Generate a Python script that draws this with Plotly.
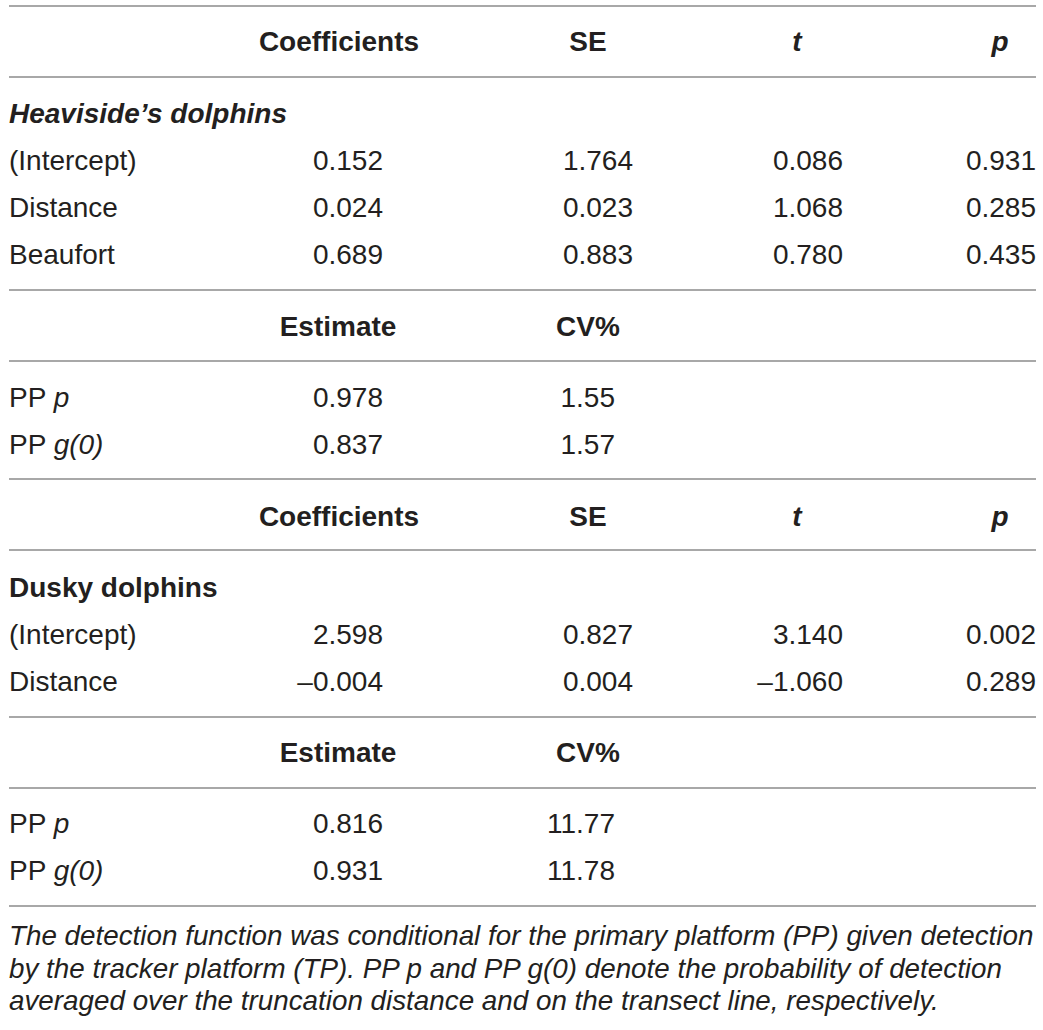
import plotly.graph_objects as go

# ── Data ───────────────────────────────────────────────────
coef_headers = ["Coefficients", "SE", "<i>t</i>", "<i>p</i>"]
est_headers = ["Estimate", "CV%"]

heav_terms = ["(Intercept)", "Distance", "Beaufort"]
heav_coef = [0.152, 0.024, 0.689]
heav_se = [1.764, 0.023, 0.883]
heav_t = [0.086, 1.068, 0.780]
heav_p = [0.931, 0.285, 0.435]
heav_est_labels = ["PP <i>p</i>", "PP <i>g(0)</i>"]
heav_est = [0.978, 0.837]
heav_cv = [1.55, 1.57]

dusky_terms = ["(Intercept)", "Distance"]
dusky_coef = [2.598, -0.004]
dusky_se = [0.827, 0.004]
dusky_t = [3.140, -1.060]
dusky_p = [0.002, 0.289]
dusky_est_labels = ["PP <i>p</i>", "PP <i>g(0)</i>"]
dusky_est = [0.816, 0.931]
dusky_cv = [11.77, 11.78]

footnote = [
    "The detection function was conditional for the primary platform (PP) given detection",
    "by the tracker platform (TP). PP p and PP g(0) denote the probability of detection",
    "averaged over the truncation distance and on the transect line, respectively.",
]

# ── Layout constants ───────────────────────────────────────
W, H = 1043, 1030
FONT = "Liberation Sans, Arial, sans-serif"
INK = "#231f20"
RULE = "#a8a8a8"
SIZE = 28
TEXT_DY = 3  # nudge text baseline down to sit like the original

X_LABEL = 9
COEF_R, COEF_C = 383, 339
SE_R, SE_C = 633, 588
CV_R = 615
T_R, T_C = 843, 797
P_R, P_C = 1036, 1000

rules_y = [6, 77, 290, 361, 479, 550, 717, 788, 906]


def fmt(v, nd=3):
    return f"{v:.{nd}f}".replace("-", "–")


fig = go.Figure()


def add_text(xs, ys, texts, pos, size=SIZE):
    fig.add_trace(go.Scatter(
        x=xs, y=[y + TEXT_DY for y in ys], text=texts, mode="text",
        textposition=pos, cliponaxis=False, hoverinfo="skip",
        textfont=dict(family=FONT, size=size, color=INK),
    ))


def coef_block(y_head, y_title, title, y_rows, terms, coef, se, t, p):
    add_text([COEF_C, SE_C, T_C, P_C], [y_head] * 4,
             [f"<b>{h}</b>" for h in coef_headers], "middle center")
    add_text([X_LABEL], [y_title], [title], "middle right")
    add_text([X_LABEL] * len(terms), y_rows, terms, "middle right")
    add_text([COEF_R] * len(coef), y_rows, [fmt(v) for v in coef], "middle left")
    add_text([SE_R] * len(se), y_rows, [fmt(v) for v in se], "middle left")
    add_text([T_R] * len(t), y_rows, [fmt(v) for v in t], "middle left")
    add_text([P_R] * len(p), y_rows, [fmt(v) for v in p], "middle left")


def est_block(y_head, y_rows, labels, est, cv):
    add_text([COEF_C - 1, SE_C], [y_head] * 2,
             [f"<b>{h}</b>" for h in est_headers], "middle center")
    add_text([X_LABEL] * len(labels), y_rows, labels, "middle right")
    add_text([COEF_R] * len(est), y_rows, [fmt(v) for v in est], "middle left")
    add_text([CV_R] * len(cv), y_rows, [fmt(v, 2) for v in cv], "middle left")


coef_block(41, 113, "<b><i>Heaviside’s dolphins</i></b>", [160, 207, 254],
           heav_terms, heav_coef, heav_se, heav_t, heav_p)
est_block(326, [397, 444], heav_est_labels, heav_est, heav_cv)

coef_block(516, 587, "<b>Dusky dolphins</b>", [634, 681],
           dusky_terms, dusky_coef, dusky_se, dusky_t, dusky_p)
est_block(752, [823, 870], dusky_est_labels, dusky_est, dusky_cv)

add_text([X_LABEL] * 3, [935, 968, 1000], [f"<i>{s}</i>" for s in footnote],
         "middle right", size=27.8)

for y in rules_y:
    fig.add_shape(type="line", x0=9, x1=1036, y0=y, y1=y, xref="x", yref="y",
                  line=dict(color=RULE, width=2))

fig.update_layout(
    width=W, height=H,
    margin=dict(l=0, r=0, t=0, b=0),
    plot_bgcolor="white", paper_bgcolor="white",
    showlegend=False,
    xaxis=dict(range=[0, W], visible=False, fixedrange=True),
    yaxis=dict(range=[H, 0], visible=False, fixedrange=True),
)

# drop the page's default body margin so the figure sits at 0,0
fig.write_html("out.html", config={"displayModeBar": False},
               post_script="document.body.style.margin='0px';")
